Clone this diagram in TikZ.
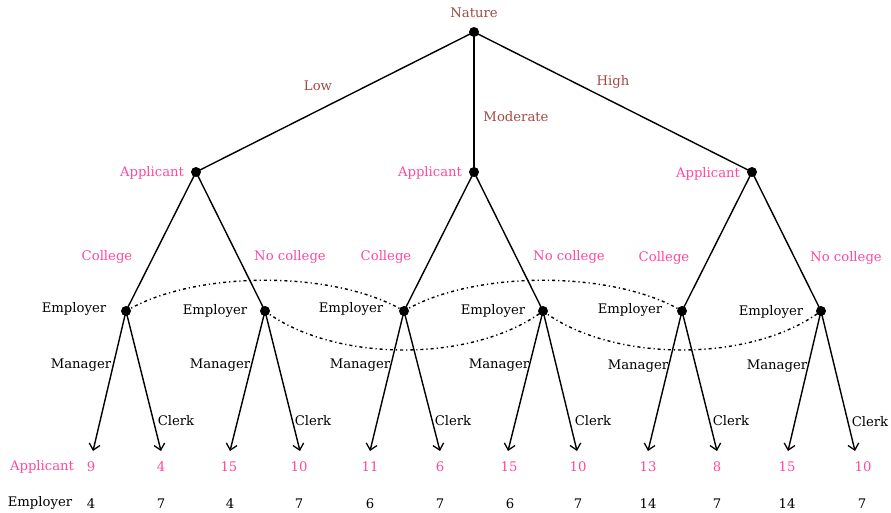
\documentclass[tikz,border=0pt]{standalone}
\usepackage{fontspec}
\setmainfont{DejaVu Serif}
\usetikzlibrary{arrows.meta}
\definecolor{natcol}{RGB}{163,72,68}
\definecolor{appcol}{RGB}{255,72,160}
\tikzset{
  dot/.style={circle,fill=black,inner sep=0pt,minimum size=10pt},
  lab/.style={font=\fontsize{13.2}{15}\selectfont,inner sep=0pt},
  nat/.style={lab,text=natcol},
  app/.style={lab,text=appcol},
  edge/.style={line width=1.4pt},
  leafedge/.style={line width=1.4pt,-{Straight Barb[length=6pt,width=11pt,line width=1.3pt]}},
  infoset/.style={line width=1.4pt,dash pattern=on 3pt off 3pt on 1.2pt off 3pt}
}
\begin{document}
\begin{tikzpicture}[x=1pt,y=-1pt]
\useasboundingbox (0,0) rectangle (891,513);
% decision nodes
\node[dot] (N) at (474,32) {};
\node[dot] (A1) at (196,172) {};
\node[dot] (A2) at (474,172) {};
\node[dot] (A3) at (752,172) {};
\node[dot] (E1) at (126,311) {};
\node[dot] (E2) at (265,311) {};
\node[dot] (E3) at (404,311) {};
\node[dot] (E4) at (543,311) {};
\node[dot] (E5) at (682,311) {};
\node[dot] (E6) at (821,311) {};
% leaves
\foreach \i/\x in {1/93,2/161,3/230,4/300,5/370,6/440,7/508,8/577,9/648,10/717,11/788,12/855}
  \coordinate (L\i) at (\x,451);
% edges
\draw[edge] (N.center) -- (A1.center);
\draw[edge] (N.center) -- (A2.center);
\draw[edge] (N.center) -- (A3.center);
\draw[edge] (A1.center) -- (E1.center);
\draw[edge] (A1.center) -- (E2.center);
\draw[edge] (A2.center) -- (E3.center);
\draw[edge] (A2.center) -- (E4.center);
\draw[edge] (A3.center) -- (E5.center);
\draw[edge] (A3.center) -- (E6.center);
\draw[leafedge] (E1.center) -- (L1);
\draw[leafedge] (E1.center) -- (L2);
\draw[leafedge] (E2.center) -- (L3);
\draw[leafedge] (E2.center) -- (L4);
\draw[leafedge] (E3.center) -- (L5);
\draw[leafedge] (E3.center) -- (L6);
\draw[leafedge] (E4.center) -- (L7);
\draw[leafedge] (E4.center) -- (L8);
\draw[leafedge] (E5.center) -- (L9);
\draw[leafedge] (E5.center) -- (L10);
\draw[leafedge] (E6.center) -- (L11);
\draw[leafedge] (E6.center) -- (L12);
% information sets
\draw[infoset] (E1.center) .. controls (195,270) and (335,270) .. (E3.center);
\draw[infoset] (E3.center) .. controls (473,270) and (613,270) .. (E5.center);
\draw[infoset] (E2.center) .. controls (334,363) and (474,363) .. (E4.center);
\draw[infoset] (E4.center) .. controls (612,363) and (752,363) .. (E6.center);
% nature labels
\node[nat] (tN) at (474,13) {Nature};
\node[nat] (tLow) at (318,86) {Low};
\node[nat] (tMod) at (516,117) {Moderate};
\node[nat] (tHigh) at (613,82) {High};
% applicant labels
\node[app] (tA1) at (152,173) {Applicant};
\node[app] (tA2) at (430,173) {Applicant};
\node[app] (tA3) at (708,174) {Applicant};
\node[app] (tC1) at (107,257) {College};
\node[app] (tNC1) at (290,257) {No college};
\node[app] (tC2) at (386,257) {College};
\node[app] (tNC2) at (569,257) {No college};
\node[app] (tC3) at (664,258) {College};
\node[app] (tNC3) at (846,258) {No college};
% employer labels
\node[lab] (tE1) at (74,309) {Employer};
\node[lab] (tE2) at (215,311) {Employer};
\node[lab] (tE3) at (351,309) {Employer};
\node[lab] (tE4) at (493,311) {Employer};
\node[lab] (tE5) at (630,310) {Employer};
\node[lab] (tE6) at (771,312) {Employer};
\foreach \i/\x/\y in {1/81/365,2/220/365,3/360/365,4/499/365,5/638/366,6/777/366}
  \node[lab] (tM\i) at (\x,\y) {Manager};
\foreach \i/\x/\y in {1/176/421,2/313/421,3/453/421,4/593/421,5/731/421,6/870/422}
  \node[lab] (tK\i) at (\x,\y) {Clerk};
% payoffs
\node[app] (rowA) at (42,467) {Applicant};
\node[lab] (rowE) at (40,503) {Employer};
\foreach \i/\x/\v in {1/91/9,2/161/4,3/229/15,4/299/10,5/370/11,6/440/6,7/509/15,8/578/10,9/648/13,10/717/8,11/787/15,12/863/10}
  \node[app] (pa\i) at (\x,467) {\v};
\foreach \i/\x/\v in {1/91/4,2/161/7,3/230/4,4/299/7,5/370/6,6/440/7,7/510/6,8/578/7,9/648/14,10/717/7,11/787/14,12/862/7}
  \node[lab] (pe\i) at (\x,504) {\v};
\end{tikzpicture}
\end{document}
